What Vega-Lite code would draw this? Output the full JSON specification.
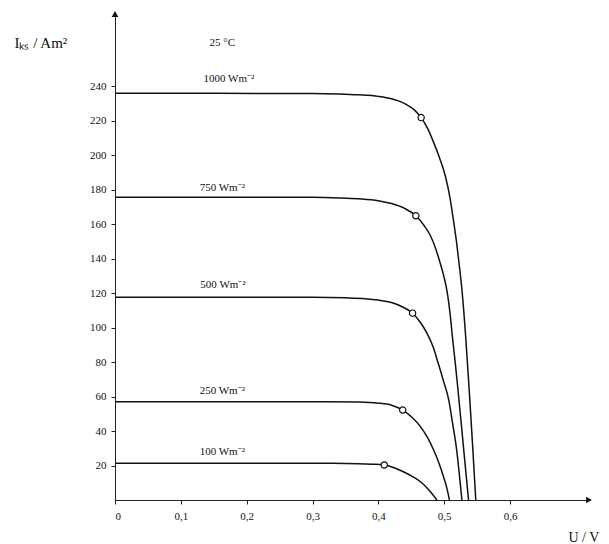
{
  "$schema": "https://vega.github.io/schema/vega-lite/v6.json",
  "autosize": "none",
  "width": 474,
  "height": 486,
  "padding": {"left": 115, "top": 14, "right": 20, "bottom": 44},
  "background": "white",
  "config": {
    "view": {"stroke": null},
    "font": "Liberation Serif",
    "axis": {"grid": false, "domainColor": "#222", "tickColor": "#222", "labelColor": "#111", "labelFont": "Liberation Serif", "labelFontSize": 11, "titleFont": "Liberation Serif", "titleFontWeight": "normal", "titleColor": "#111"}
  },
  "datasets": {
    "curves": [
      {"G": "1000", "U": 0, "I": 236},
      {"G": "1000", "U": 0.3, "I": 235.9},
      {"G": "1000", "U": 0.34, "I": 235.6},
      {"G": "1000", "U": 0.37, "I": 235.1},
      {"G": "1000", "U": 0.4, "I": 234.2},
      {"G": "1000", "U": 0.42, "I": 232.8},
      {"G": "1000", "U": 0.44, "I": 230.0},
      {"G": "1000", "U": 0.455, "I": 226.2},
      {"G": "1000", "U": 0.465, "I": 221.9},
      {"G": "1000", "U": 0.475, "I": 215.5},
      {"G": "1000", "U": 0.484, "I": 207.5},
      {"G": "1000", "U": 0.493, "I": 198.5},
      {"G": "1000", "U": 0.502, "I": 187.7},
      {"G": "1000", "U": 0.509, "I": 175},
      {"G": "1000", "U": 0.514, "I": 162.5},
      {"G": "1000", "U": 0.519, "I": 149},
      {"G": "1000", "U": 0.523, "I": 136},
      {"G": "1000", "U": 0.527, "I": 122},
      {"G": "1000", "U": 0.533, "I": 93},
      {"G": "1000", "U": 0.538, "I": 64},
      {"G": "1000", "U": 0.543, "I": 33},
      {"G": "1000", "U": 0.548, "I": 0},
      {"G": "750", "U": 0, "I": 175.7},
      {"G": "750", "U": 0.3, "I": 175.6},
      {"G": "750", "U": 0.34, "I": 175.3},
      {"G": "750", "U": 0.37, "I": 174.8},
      {"G": "750", "U": 0.4, "I": 173.7},
      {"G": "750", "U": 0.42, "I": 172},
      {"G": "750", "U": 0.44, "I": 169.2},
      {"G": "750", "U": 0.457, "I": 164.9},
      {"G": "750", "U": 0.47, "I": 159},
      {"G": "750", "U": 0.479, "I": 153.5},
      {"G": "750", "U": 0.487, "I": 146},
      {"G": "750", "U": 0.494, "I": 137.4},
      {"G": "750", "U": 0.5, "I": 129},
      {"G": "750", "U": 0.504, "I": 121.9},
      {"G": "750", "U": 0.509, "I": 108},
      {"G": "750", "U": 0.513, "I": 93},
      {"G": "750", "U": 0.517, "I": 79},
      {"G": "750", "U": 0.521, "I": 64},
      {"G": "750", "U": 0.529, "I": 32},
      {"G": "750", "U": 0.537, "I": 0},
      {"G": "500", "U": 0, "I": 117.7},
      {"G": "500", "U": 0.3, "I": 117.6},
      {"G": "500", "U": 0.35, "I": 117.3},
      {"G": "500", "U": 0.38, "I": 116.8},
      {"G": "500", "U": 0.4, "I": 116},
      {"G": "500", "U": 0.42, "I": 114.6},
      {"G": "500", "U": 0.437, "I": 112},
      {"G": "500", "U": 0.452, "I": 108.4},
      {"G": "500", "U": 0.464, "I": 103},
      {"G": "500", "U": 0.474, "I": 96.7},
      {"G": "500", "U": 0.483, "I": 89},
      {"G": "500", "U": 0.491, "I": 79.3},
      {"G": "500", "U": 0.499, "I": 69},
      {"G": "500", "U": 0.507, "I": 58},
      {"G": "500", "U": 0.513, "I": 44},
      {"G": "500", "U": 0.519, "I": 29},
      {"G": "500", "U": 0.523, "I": 15},
      {"G": "500", "U": 0.527, "I": 0},
      {"G": "250", "U": 0, "I": 57},
      {"G": "250", "U": 0.32, "I": 57},
      {"G": "250", "U": 0.37, "I": 56.8},
      {"G": "250", "U": 0.4, "I": 56.2},
      {"G": "250", "U": 0.42, "I": 55},
      {"G": "250", "U": 0.437, "I": 52.2},
      {"G": "250", "U": 0.451, "I": 48},
      {"G": "250", "U": 0.464, "I": 42.6},
      {"G": "250", "U": 0.475, "I": 36},
      {"G": "250", "U": 0.484, "I": 29},
      {"G": "250", "U": 0.492, "I": 21.5},
      {"G": "250", "U": 0.499, "I": 13.5},
      {"G": "250", "U": 0.504, "I": 7},
      {"G": "250", "U": 0.508, "I": 0},
      {"G": "100", "U": 0, "I": 21.3},
      {"G": "100", "U": 0.33, "I": 21.3},
      {"G": "100", "U": 0.37, "I": 21.1},
      {"G": "100", "U": 0.39, "I": 20.8},
      {"G": "100", "U": 0.409, "I": 20.3},
      {"G": "100", "U": 0.425, "I": 18.6},
      {"G": "100", "U": 0.438, "I": 16.4},
      {"G": "100", "U": 0.452, "I": 13.6},
      {"G": "100", "U": 0.464, "I": 10.6},
      {"G": "100", "U": 0.473, "I": 7.4},
      {"G": "100", "U": 0.481, "I": 3.9},
      {"G": "100", "U": 0.489, "I": 0}
    ],
    "mpp": [
      {"G": "1000", "U": 0.465, "I": 221.9},
      {"G": "750", "U": 0.457, "I": 164.9},
      {"G": "500", "U": 0.452, "I": 108.4},
      {"G": "250", "U": 0.437, "I": 52.2},
      {"G": "100", "U": 0.409, "I": 20.3}
    ],
    "labels": [
      {"text": "1000 Wm⁻²", "U": 0.173, "I": 244},
      {"text": "750 Wm⁻²", "U": 0.163, "I": 181},
      {"text": "500 Wm⁻²", "U": 0.164, "I": 125},
      {"text": "250 Wm⁻²", "U": 0.163, "I": 63},
      {"text": "100 Wm⁻²", "U": 0.163, "I": 28},
      {"text": "25 °C", "U": 0.163, "I": 265}
    ],
    "arrows": [
      {"U": 0.72, "I": 0, "shape": "triangle-right"},
      {"U": 0, "I": 282, "shape": "triangle-up"}
    ]
  },
  "layer": [
    {
      "data": {"name": "curves"},
      "mark": {"type": "line", "interpolate": "monotone", "color": "#111", "strokeWidth": 1.5},
      "encoding": {
        "x": {"field": "U", "type": "quantitative", "scale": {"domain": [0, 0.72], "nice": false},
          "axis": {"values": [0, 0.05, 0.1, 0.15, 0.2, 0.25, 0.3, 0.35, 0.4, 0.45, 0.5, 0.55, 0.6],
            "labelExpr": "abs(round(datum.value*20)%2)==1 ? '' : (datum.value==0 ? '0' : replace(format(datum.value,'.1f'),'.',','))",
            "tickSize": 4, "labelPadding": 6, "title": "U / V", "titleFontSize": 14, "titleAlign": "left", "titleX": 453, "titleY": 37, "titleBaseline": "middle"}},
        "y": {"field": "I", "type": "quantitative", "scale": {"domain": [0, 282], "nice": false},
          "axis": {"values": [20, 40, 60, 80, 100, 120, 140, 160, 180, 200, 220, 240], "tickSize": 4, "labelPadding": 5,
            "title": "Iₖₛ / Am²", "titleAngle": 0, "titleFontSize": 15, "titleAlign": "left", "titleBaseline": "middle", "titleX": -101, "titleY": 28}},
        "detail": {"field": "G"}
      }
    },
    {
      "data": {"name": "mpp"},
      "mark": {"type": "point", "shape": "circle", "filled": true, "fill": "white", "stroke": "#111", "strokeWidth": 1.2, "size": 40, "opacity": 1},
      "encoding": {
        "x": {"field": "U", "type": "quantitative"},
        "y": {"field": "I", "type": "quantitative"}
      }
    },
    {
      "data": {"name": "labels"},
      "mark": {"type": "text", "fontSize": 11, "font": "Liberation Serif", "color": "#111", "align": "center", "baseline": "middle"},
      "encoding": {
        "x": {"field": "U", "type": "quantitative"},
        "y": {"field": "I", "type": "quantitative"},
        "text": {"field": "text"}
      }
    },
    {
      "data": {"name": "arrows"},
      "mark": {"type": "point", "filled": true, "color": "#111", "size": 45, "opacity": 1},
      "encoding": {
        "x": {"field": "U", "type": "quantitative"},
        "y": {"field": "I", "type": "quantitative"},
        "shape": {"field": "shape", "type": "nominal", "scale": null}
      }
    }
  ]
}
